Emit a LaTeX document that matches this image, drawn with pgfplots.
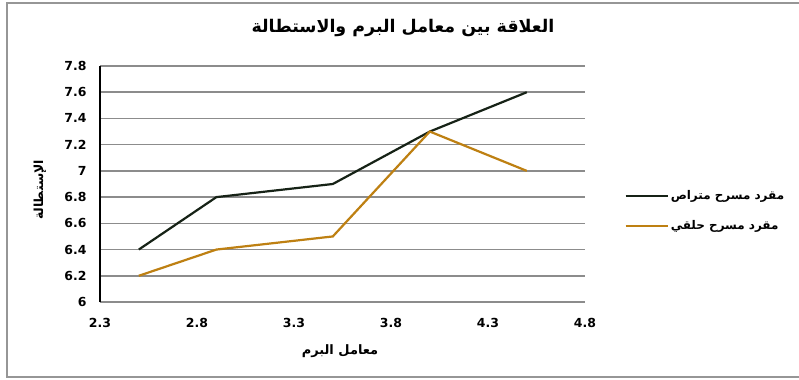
\documentclass[border=0pt]{standalone}
\usepackage{fontspec}
\usepackage{pgfplots}
\pgfplotsset{compat=1.18}
\setmainfont{DejaVu Sans}
\newfontfamily\arabicfont[Script=Arabic]{DejaVu Sans}
\TeXXeTstate=1
\definecolor{darkline}{RGB}{22,34,22}
\definecolor{goldline}{RGB}{190,128,18}
\definecolor{gridgray}{RGB}{140,140,140}
\definecolor{framegray}{RGB}{150,150,150}
\begin{document}
\begin{tikzpicture}[x=1bp,y=1bp]
\useasboundingbox[fill=white] (0,0) rectangle (799,379);
\draw[framegray,line width=1.5bp] (799,376) -- (7,376) -- (7,2) -- (799,2);
\begin{axis}[
    at={(100bp,77bp)}, anchor=south west,
    scale only axis, width=485bp, height=236bp,
    xmin=2.3, xmax=4.8, ymin=6, ymax=7.8,
    xtick={2.3,2.8,3.3,3.8,4.3,4.8},
    ytick={6,6.2,6.4,6.6,6.8,7,7.2,7.4,7.6,7.8},
    xticklabels={2.3,2.8,3.3,3.8,4.3,4.8},
    yticklabels={6,6.2,6.4,6.6,6.8,7,7.2,7.4,7.6,7.8},
    /pgf/number format/assume math mode=true,
    major tick length=0pt,
    axis x line*=bottom, axis y line*=left,
    x axis line style={-,gridgray,line width=1.8bp},
    y axis line style={-,black,line width=1.2bp},
    ymajorgrids, grid style={gridgray,line width=1.6bp},
    ticklabel style={font=\fontsize{12.5}{15}\selectfont\bfseries},
    yticklabel style={xshift=-10bp},
    xticklabel style={yshift=-13bp},
    legend style={at={(rel axis cs:1.075,0.386)}, anchor=west, draw=none,
        font=\fontsize{12}{14}\selectfont, row sep=16bp,
        /tikz/every even column/.append style={column sep=0bp}},
    legend cell align=left,
    legend image code/.code={\draw[#1] (0bp,0bp) -- (42bp,0bp);},
]
\addplot[darkline, line width=2.2bp] coordinates {
    (2.5,6.4) (2.9,6.8) (3.5,6.9) (4.0,7.3) (4.5,7.6)
};
\addlegendentry{\arabicfont\bfseries\beginR مقرد مسرح متراص\endR}
\addplot[goldline, line width=2.2bp] coordinates {
    (2.5,6.2) (2.9,6.4) (3.5,6.5) (4.0,7.3) (4.5,7.0)
};
\addlegendentry{\arabicfont\bfseries\beginR مقرد مسرح حلقي\endR}
\end{axis}
\node[font=\arabicfont\bfseries\fontsize{17.5}{20}\selectfont] at (403,351) {\beginR العلاقة بين معامل البرم والاستطالة\endR};
\node[font=\arabicfont\bfseries\fontsize{12.5}{14}\selectfont, rotate=90] at (40,189) {\beginR الإستطالة\endR};
\node[font=\arabicfont\bfseries\fontsize{13}{15}\selectfont] at (340,28) {\beginR معامل البرم\endR};
\end{tikzpicture}
\end{document}
